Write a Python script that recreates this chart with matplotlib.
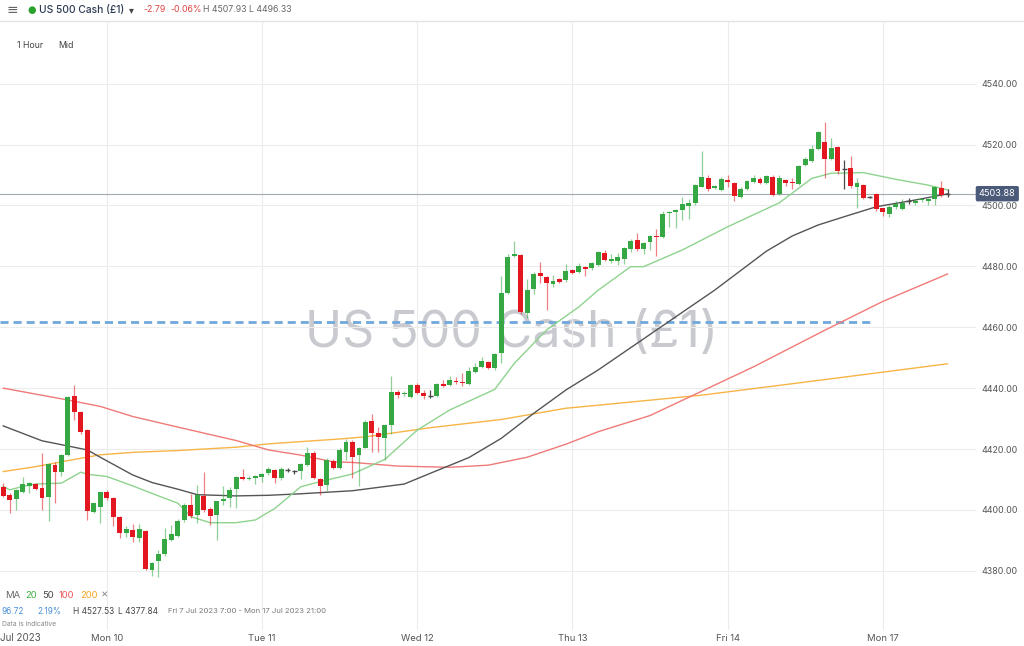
import matplotlib.pyplot as plt
import matplotlib.transforms as mtransforms
import numpy as np

plt.rcParams['font.family'] = ['Inter', 'DejaVu Sans']

# hourly candles, Fri 7 Jul 07:00 .. Mon 17 Jul
opens = [4407.4, 4405.0, 4403.5, 4406.0, 4408.0, 4408.5, 4407.2, 4404.1, 4414.8, 4412.6,
         4418.1, 4437.5, 4432.1, 4426.1, 4399.2, 4401.1, 4406.0, 4404.0, 4397.8, 4392.5,
         4393.4, 4390.9, 4393.2, 4380.3, 4383.2, 4385.4, 4390.1, 4391.5, 4396.7, 4401.5,
         4398.3, 4404.6, 4400.4, 4398.2, 4403.0, 4403.8, 4406.9, 4410.9, 4410.2, 4410.6,
         4410.9, 4412.0, 4413.1, 4410.6, 4413.1, 4412.9, 4412.9, 4414.7, 4418.6, 4410.3,
         4408.2, 4416.2, 4413.7, 4419.1, 4422.3, 4417.9, 4420.5, 4429.1, 4425.4, 4423.6,
         4427.9, 4438.8, 4438.0, 4437.2, 4441.0, 4438.5, 4437.5, 4437.5, 4441.5, 4441.0,
         4442.3, 4442.1, 4441.3, 4445.4, 4446.8, 4448.7, 4446.5, 4451.4, 4471.4, 4483.5,
         4483.7, 4464.8, 4472.5, 4477.7, 4476.6, 4474.2, 4475.7, 4475.5, 4478.8, 4478.1,
         4479.9, 4479.4, 4480.5, 4484.3, 4481.9, 4481.9, 4482.4, 4485.6, 4488.7, 4485.6,
         4487.9, 4490.0, 4489.8, 4497.4, 4498.0, 4498.5, 4499.8, 4500.9, 4506.2, 4508.9,
         4505.7, 4505.1, 4508.3, 4507.3, 4502.7, 4505.3, 4507.6, 4508.8, 4507.3, 4509.4,
         4503.7, 4508.5, 4507.7, 4507.1, 4513.3, 4514.7, 4518.6, 4520.7, 4515.4, 4519.3,
         4511.9, 4512.2, 4506.0, 4506.7, 4502.7, 4503.8, 4499.1, 4497.1, 4499.4, 4498.7,
         4501.6, 4500.7, 4501.7, 4501.5, 4502.0, 4505.8, 4503.88]
highs = [4408.8, 4405.5, 4406.8, 4410.7, 4409.3, 4409.0, 4418.6, 4415.5, 4415.8, 4418.5,
         4437.3, 4441.1, 4432.5, 4426.5, 4402.4, 4406.0, 4406.4, 4404.3, 4398.0, 4394.7,
         4395.4, 4395.4, 4393.5, 4383.0, 4386.9, 4393.9, 4395.1, 4397.0, 4402.4, 4405.1,
         4408.1, 4412.4, 4401.0, 4403.0, 4407.8, 4407.4, 4411.2, 4413.4, 4411.0, 4411.5,
         4412.0, 4414.0, 4413.5, 4414.0, 4413.9, 4413.1, 4415.3, 4420.8, 4419.5, 4410.6,
         4416.9, 4416.8, 4420.2, 4423.2, 4423.0, 4420.8, 4429.5, 4431.4, 4427.3, 4428.3,
         4444.0, 4439.3, 4439.0, 4441.3, 4441.6, 4439.4, 4439.4, 4441.6, 4442.6, 4444.1,
         4443.8, 4445.1, 4447.0, 4448.1, 4450.3, 4449.0, 4451.6, 4476.8, 4484.1, 4488.5,
         4484.0, 4475.7, 4478.3, 4481.5, 4477.0, 4477.2, 4476.1, 4480.8, 4479.2, 4481.2,
         4480.2, 4481.4, 4485.0, 4485.4, 4484.1, 4484.3, 4486.4, 4489.1, 4490.9, 4488.1,
         4490.3, 4492.2, 4498.2, 4498.2, 4499.0, 4502.9, 4502.0, 4507.0, 4518.0, 4509.9,
         4506.8, 4509.2, 4509.9, 4507.6, 4506.0, 4508.5, 4509.9, 4509.2, 4510.0, 4509.9,
         4509.9, 4508.8, 4508.9, 4513.4, 4515.8, 4519.9, 4524.6, 4527.53, 4522.1, 4519.7,
         4515.0, 4516.4, 4509.1, 4507.0, 4503.0, 4504.1, 4499.3, 4500.2, 4501.6, 4502.0,
         4502.4, 4502.0, 4502.4, 4502.5, 4506.4, 4507.93, 4505.3]
lows = [4404.2, 4399.1, 4400.0, 4405.5, 4405.5, 4406.4, 4400.0, 4396.4, 4402.2, 4411.0,
        4417.8, 4429.4, 4425.0, 4396.7, 4398.9, 4395.6, 4403.3, 4394.7, 4390.7, 4391.2,
        4389.4, 4389.6, 4380.1, 4378.4, 4377.84, 4385.0, 4389.8, 4391.0, 4396.1, 4397.2,
        4395.6, 4399.4, 4394.9, 4390.1, 4401.6, 4400.8, 4400.5, 4409.8, 4409.8, 4408.5,
        4409.3, 4411.5, 4408.7, 4409.8, 4412.4, 4411.7, 4410.1, 4414.4, 4410.0, 4404.9,
        4406.3, 4413.3, 4413.3, 4416.4, 4410.4, 4407.8, 4420.2, 4419.1, 4419.1, 4416.4,
        4425.1, 4436.6, 4437.5, 4436.8, 4438.0, 4436.3, 4436.6, 4437.0, 4440.5, 4440.7,
        4441.4, 4440.7, 4441.0, 4444.9, 4446.5, 4446.2, 4446.0, 4448.4, 4471.0, 4483.0,
        4464.5, 4462.9, 4470.9, 4474.6, 4465.7, 4473.1, 4474.6, 4475.0, 4477.4, 4477.7,
        4476.8, 4478.7, 4480.2, 4481.8, 4481.0, 4480.4, 4480.8, 4484.7, 4485.2, 4484.0,
        4485.4, 4483.4, 4489.4, 4492.8, 4492.5, 4495.4, 4495.5, 4500.2, 4506.0, 4504.9,
        4505.3, 4504.8, 4506.2, 4501.6, 4502.3, 4505.0, 4507.3, 4507.2, 4507.0, 4503.0,
        4503.4, 4506.4, 4505.4, 4506.8, 4513.0, 4514.3, 4518.3, 4508.9, 4515.0, 4510.3,
        4505.3, 4505.7, 4499.1, 4502.1, 4502.4, 4498.3, 4496.5, 4496.33, 4499.0, 4498.4,
        4500.5, 4500.2, 4501.2, 4500.2, 4500.2, 4502.7, 4502.7]
closes = [4404.6, 4403.3, 4406.4, 4408.4, 4409.0, 4406.8, 4403.8, 4415.0, 4412.6, 4418.1,
          4437.0, 4432.3, 4425.7, 4399.5, 4402.2, 4405.8, 4404.0, 4397.8, 4392.3, 4393.6,
          4391.0, 4393.6, 4380.5, 4382.7, 4385.4, 4390.4, 4392.1, 4396.4, 4401.6, 4398.0,
          4404.9, 4400.0, 4398.1, 4402.8, 4403.7, 4406.7, 4410.9, 4410.1, 4410.6, 4411.2,
          4411.8, 4413.4, 4410.6, 4413.4, 4413.1, 4412.9, 4415.1, 4418.6, 4410.4, 4407.8,
          4416.4, 4413.7, 4419.7, 4422.3, 4417.5, 4420.2, 4428.8, 4425.4, 4423.8, 4427.9,
          4438.8, 4437.9, 4438.5, 4441.0, 4438.3, 4437.5, 4437.5, 4441.2, 4440.8, 4442.7,
          4441.9, 4441.6, 4445.7, 4447.1, 4448.9, 4446.5, 4451.2, 4471.1, 4483.0, 4484.0,
          4465.1, 4472.4, 4477.5, 4476.8, 4474.6, 4475.1, 4475.0, 4478.5, 4477.7, 4480.1,
          4479.1, 4481.0, 4484.6, 4482.1, 4482.4, 4483.0, 4486.1, 4488.4, 4485.6, 4487.8,
          4490.0, 4489.6, 4497.2, 4497.9, 4498.5, 4500.4, 4500.9, 4506.7, 4509.2, 4505.3,
          4506.4, 4508.6, 4507.6, 4503.1, 4505.5, 4508.2, 4509.1, 4507.5, 4509.7, 4503.4,
          4509.1, 4507.3, 4507.4, 4513.0, 4515.2, 4518.6, 4524.2, 4515.4, 4519.0, 4511.4,
          4511.9, 4506.4, 4507.3, 4502.6, 4502.7, 4498.7, 4498.0, 4499.6, 4500.5, 4500.9,
          4501.6, 4501.5, 4502.1, 4502.2, 4506.0, 4503.4, 4503.88]

# moving averages (candle index, value)
ma20_idx = [0, 1, 3, 5, 9, 11, 12, 13, 16, 20, 24, 27, 29, 32, 36, 39, 42, 46, 49, 54,
            59, 64, 69, 76, 79, 84, 89, 92, 97, 99, 105, 112, 120, 125, 128, 133, 138, 143, 146]
ma20_val = [4407.7, 4406.6, 4407.7, 4408.5, 4408.8, 4411.2, 4412.4, 4411.7, 4411.0, 4407.9,
            4404.6, 4402.2, 4397.8, 4395.8, 4395.8, 4396.7, 4400.5, 4407.6, 4409.3, 4411.8,
            4416.6, 4426.2, 4432.8, 4439.6, 4448.1, 4459.1, 4466.7, 4472.2, 4479.9, 4479.9,
            4485.4, 4493.0, 4500.9, 4508.9, 4510.6, 4510.8, 4508.6, 4506.7, 4505.1]
ma50_idx = [0, 6, 10, 13, 15, 20, 23, 27, 30, 36, 41, 46, 54, 62, 66, 72, 77, 82, 87, 92,
            101, 110, 118, 122, 126, 130, 135, 141, 146]
ma50_val = [4427.6, 4422.7, 4421.0, 4419.7, 4417.3, 4411.5, 4409.0, 4406.8, 4405.0, 4404.6,
            4404.8, 4405.3, 4406.3, 4408.5, 4412.0, 4417.2, 4423.5, 4431.7, 4439.4, 4446.0,
            4459.1, 4472.2, 4485.0, 4490.0, 4493.6, 4496.3, 4499.6, 4501.8, 4503.8]
ma100_idx = [0, 10, 15, 20, 27, 36, 41, 46, 51, 54, 61, 69, 75, 81, 87, 92, 100, 106, 116,
             127, 136, 146]
ma100_val = [4440.0, 4436.1, 4434.0, 4430.7, 4427.2, 4422.8, 4419.7, 4418.0, 4415.8, 4415.6,
             4414.4, 4414.0, 4414.7, 4417.3, 4421.6, 4425.7, 4431.0, 4437.0, 4447.0, 4459.0,
             4468.5, 4477.5]
ma200_idx = [0, 5, 10, 15, 20, 27, 36, 41, 52, 56, 66, 77, 87, 92, 108, 127, 146]
ma200_val = [4412.6, 4414.2, 4416.2, 4418.1, 4418.9, 4419.5, 4420.6, 4421.7, 4423.3, 4424.0,
             4427.0, 4429.7, 4433.4, 4434.4, 4437.7, 4442.8, 4448.0]

day_ticks = [16, 40, 64, 88, 112, 136]
day_labels = ['Mon 10', 'Tue 11', 'Wed 12', 'Thu 13', 'Fri 14', 'Mon 17']
price_ticks = [4380, 4400, 4420, 4440, 4460, 4480, 4500, 4520, 4540]
support_level = 4461.7
support_end = 134.4
last_price = 4503.88

GREEN = '#35a843'
RED = '#e3171f'
GRAY = '#4a4a4a'

fig = plt.figure(figsize=(10.24, 6.46), dpi=100)
ax = fig.add_axes([0, 16 / 646, 976 / 1024, 608 / 646])
ax.set_xlim(-0.5, 150.4)
ax.set_ylim(4360.55, 4560.28)

ax.set_yticks(price_ticks)
ax.set_yticklabels([f'{p:.2f}' for p in price_ticks])
ax.yaxis.tick_right()
ax.set_xticks(day_ticks)
ax.set_xticklabels(day_labels)
ax.tick_params(axis='both', length=0, labelcolor='#555555')
ax.tick_params(axis='y', pad=4, labelsize=6.4)
ax.tick_params(axis='x', pad=3, labelsize=6.8)
ax.grid(True, color='#ececec', lw=0.8)
ax.set_axisbelow(True)
for s in ax.spines.values():
    s.set_visible(False)

# watermark
ax.text(0.5, 4458.0, 'US 500 Cash (£1)',
        transform=mtransforms.blended_transform_factory(fig.transFigure, ax.transData),
        ha='center', va='center', fontsize=36, color='#c8cacf', zorder=0.5)

ax.axhline(last_price, color='#a3a9b0', lw=0.8, zorder=1)
ax.plot([-0.5, support_end], [support_level, support_level], color='#6fa8dc', lw=2,
        dashes=(2.9, 1.8), zorder=1.5)

ax.plot(ma200_idx, ma200_val, color='#f7b547', lw=1.0, zorder=2)
ax.plot(ma100_idx, ma100_val, color='#f07a78', lw=1.0, zorder=2)
ax.plot(ma50_idx, ma50_val, color='#555555', lw=1.0, zorder=2)
ax.plot(ma20_idx, ma20_val, color='#8ed38e', lw=1.0, zorder=2)

x = np.arange(len(opens))
o = np.array(opens)
h = np.array(highs)
l = np.array(lows)
c = np.array(closes)
up = c > o
dn = c < o
fl = c == o
ax.vlines(x[up], l[up], h[up], color=GREEN, alpha=0.55, lw=0.9, zorder=3)
ax.vlines(x[dn], l[dn], h[dn], color=RED, alpha=0.55, lw=0.9, zorder=3)
ax.vlines(x[fl], l[fl], h[fl], color=GRAY, lw=0.9, zorder=3)
ax.bar(x[up], np.maximum(c[up] - o[up], 0.35), bottom=o[up], width=0.76, color=GREEN, zorder=4)
ax.bar(x[dn], np.maximum(o[dn] - c[dn], 0.35), bottom=c[dn], width=0.76, color=RED, zorder=4)
ax.hlines(o[fl], x[fl] - 0.38, x[fl] + 0.38, color=GRAY, lw=1, zorder=4)

ax.text(1.003, last_price, f'{last_price:.2f}', transform=ax.get_yaxis_transform(),
        ha='left', va='center', color='white', fontsize=6.6, zorder=10, clip_on=False,
        bbox=dict(boxstyle='round,pad=0.35,rounding_size=0.2', fc='#4b5a78', ec='none'))

# header
hy = 1 - 10 / 646
fig.add_artist(plt.Line2D([0, 1], [1 - 21 / 646, 1 - 21 / 646], color='#e3e3e3', lw=1))
fig.text(7 / 1024, hy, '≡', fontsize=10, color='#666666', va='center')
fig.text(27 / 1024, hy, '●', fontsize=7, color='#2ca02c', va='center', family='DejaVu Sans')
fig.text(39 / 1024, hy, 'US 500 Cash (£1)', fontsize=7.4, color='#2c3a52', va='center', weight='medium')
fig.text(129 / 1024, hy, '▾', fontsize=7, color='#444444', va='center', family='DejaVu Sans')
fig.text(143 / 1024, hy, '-2.79', fontsize=6.3, color='#e04444', va='center')
fig.text(170 / 1024, hy, '-0.06%', fontsize=6.3, color='#e04444', va='center')
fig.text(203 / 1024, hy, 'H 4507.93', fontsize=6.3, color='#666666', va='center')
fig.text(249 / 1024, hy, 'L 4496.33', fontsize=6.3, color='#666666', va='center')
fig.text(17 / 1024, 1 - 45 / 646, '1 Hour', fontsize=6.3, color='#444444', va='center')
fig.text(58 / 1024, 1 - 45 / 646, 'Mid', fontsize=6.3, color='#444444', va='center')

# bottom-left legend
yl = 1 - 595 / 646
fig.text(5 / 1024, yl, 'MA', fontsize=6.8, color='#666666', va='center')
fig.text(25 / 1024, yl, '20', fontsize=6.8, color='#3fae3f', va='center')
fig.text(42 / 1024, yl, '50', fontsize=6.8, color='#444444', va='center')
fig.text(59 / 1024, yl, '100', fontsize=6.8, color='#ee5555', va='center')
fig.text(80 / 1024, yl, '200', fontsize=6.8, color='#f5a623', va='center')
fig.text(101 / 1024, yl, '×', fontsize=8, color='#888888', va='center')
yl2 = 1 - 611 / 646
fig.text(1 / 1024, yl2, '96.72', fontsize=6, color='#4a90d9', va='center')
fig.text(37 / 1024, yl2, '2.19%', fontsize=6, color='#4a90d9', va='center')
fig.text(73 / 1024, yl2, 'H 4527.53', fontsize=6, color='#444444', va='center')
fig.text(118 / 1024, yl2, 'L 4377.84', fontsize=6, color='#444444', va='center')
fig.text(168 / 1024, yl2, 'Fri 7 Jul 2023 7:00 - Mon 17 Jul 2023 21:00', fontsize=5.5,
         color='#777777', va='center')
fig.text(2 / 1024, 1 - 624 / 646, 'Data is indicative', fontsize=4.8, color='#888888', va='center')
fig.text(0, 1 - 638 / 646, 'Jul 2023', fontsize=7, color='#555555', va='center')

fig.savefig('out.png', dpi=100)
